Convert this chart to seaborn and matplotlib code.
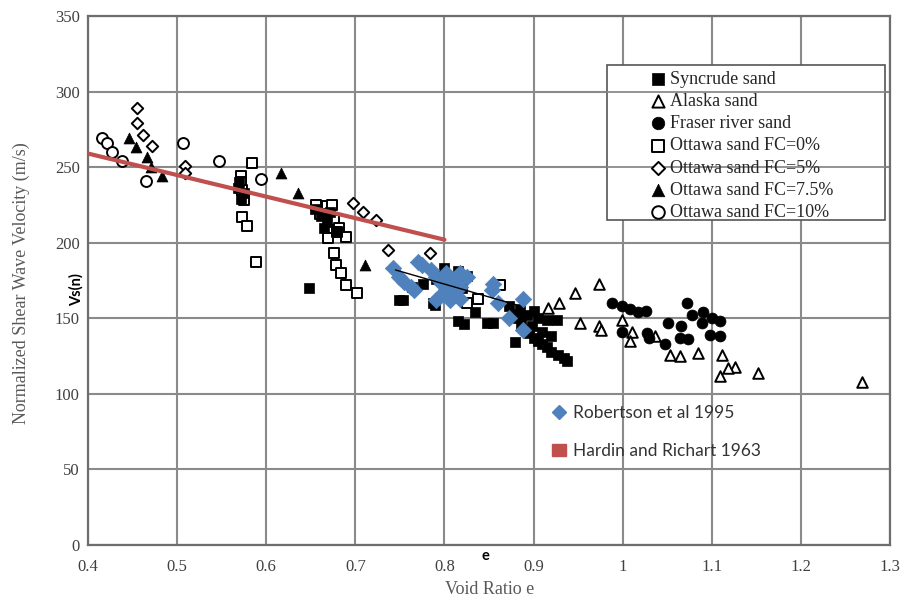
import numpy as np
import pandas as pd
import matplotlib
matplotlib.use("Agg")
import matplotlib.pyplot as plt
import seaborn as sns
from matplotlib.lines import Line2D
from matplotlib.patches import Patch, Rectangle

# --- data (void ratio e, Vs(n) in m/s) ---
syncrude_e = [0.570, 0.568, 0.575, 0.572, 0.655, 0.662, 0.668, 0.672, 0.678, 0.665,
              0.648, 0.753, 0.789, 0.815, 0.822, 0.834, 0.848, 0.854, 0.749, 0.787,
              0.764, 0.776, 0.800, 0.815, 0.825, 0.790, 0.820,
              0.873, 0.878, 0.882, 0.886, 0.890, 0.895, 0.900, 0.905, 0.910, 0.915,
              0.920, 0.927, 0.934, 0.938, 0.879, 0.893, 0.905, 0.915, 0.926, 0.898,
              0.910, 0.920, 0.885, 0.900]
syncrude_v = [240, 236, 233, 229, 222, 218, 214, 220, 208, 210,
              170, 162, 159, 148, 146, 154, 147, 147, 162, 160,
              171, 173, 183, 181, 178, 176, 170,
              158, 153, 150, 146, 143, 140, 137, 135, 133, 131,
              128, 126, 124, 122, 134, 152, 150, 149, 149, 145,
              141, 138, 156, 155]

alaska_e = [0.916, 0.929, 0.946, 0.973, 0.952, 0.973, 0.976, 0.999, 1.010, 1.008,
            1.036, 1.053, 1.064, 1.084, 1.112, 1.126, 1.118, 1.109, 1.152, 1.269]
alaska_v = [157, 160, 167, 173, 147, 145, 142, 149, 141, 135,
            138, 126, 125, 127, 126, 118, 117, 112, 114, 108]

fraser_e = [0.988, 0.999, 1.008, 1.017, 1.026, 0.999, 1.027, 1.029, 1.047, 1.051,
            1.066, 1.072, 1.078, 1.090, 1.089, 1.100, 1.109, 1.098, 1.109, 1.064, 1.073]
fraser_v = [160, 158, 156, 154, 155, 141, 140, 137, 133, 147,
            145, 160, 152, 154, 147, 150, 148, 139, 138, 137, 136]

ottawa0_e = [0.584, 0.572, 0.572, 0.573, 0.575, 0.573, 0.578, 0.589,
             0.656, 0.668, 0.674, 0.660, 0.671, 0.676, 0.682, 0.669, 0.690, 0.679,
             0.676, 0.678, 0.684, 0.690, 0.702, 0.825, 0.862, 0.838]
ottawa0_v = [253, 244, 240, 235, 228, 217, 211, 187,
             225, 224, 225, 219, 219, 215, 210, 203, 204, 207,
             193, 185, 180, 172, 167, 160, 172, 163]

ottawa5_e = [0.455, 0.455, 0.462, 0.472, 0.509, 0.509, 0.697, 0.709, 0.723, 0.737, 0.784]
ottawa5_v = [289, 279, 271, 264, 251, 246, 226, 220, 215, 195, 193]

ottawa75_e = [0.446, 0.454, 0.466, 0.471, 0.483, 0.617, 0.636, 0.711]
ottawa75_v = [269, 263, 257, 250, 244, 246, 233, 185]

ottawa10_e = [0.416, 0.421, 0.427, 0.438, 0.465, 0.507, 0.547, 0.594]
ottawa10_v = [269, 266, 260, 254, 241, 266, 254, 242]

robertson_e = [0.742, 0.749, 0.755, 0.763, 0.766, 0.770, 0.775, 0.785, 0.791, 0.797,
               0.802, 0.794, 0.806, 0.811, 0.817, 0.817, 0.825, 0.811, 0.802, 0.817,
               0.791, 0.854, 0.853, 0.860, 0.888, 0.873, 0.888, 0.800, 0.810]
robertson_v = [183, 177, 174, 171, 169, 187, 185, 182, 177, 173,
               169, 164, 162, 167, 171, 180, 177, 176, 180, 163,
               162, 173, 169, 160, 163, 150, 142, 175, 172]

# trend lines (end points)
robertson_fit_e = [0.745, 0.88]
robertson_fit_v = [182, 159]
hardin_e = [0.4, 0.8]
hardin_v = [259, 202]

xticks = [0.4, 0.5, 0.6, 0.7, 0.8, 0.9, 1.0, 1.1, 1.2, 1.3]
xtick_labels = ["0.4", "0.5", "0.6", "0.7", "0.8", "0.9", "1", "1.1", "1.2", "1.3"]
yticks = [0, 50, 100, 150, 200, 250, 300, 350]

sns.set_style("white")
plt.rcParams["font.family"] = ["Liberation Serif", "DejaVu Serif"]

fig = plt.figure(figsize=(9.01, 6.01), dpi=100)
ax = fig.add_axes([88 / 901, 1 - 545 / 601, (890 - 88) / 901, (545 - 16) / 601])

grid_c = "#8a8a8a"
open_kw = dict(facecolor="white", edgecolor="black", linewidth=1.4)

sns.scatterplot(x=ottawa0_e, y=ottawa0_v, marker="s", s=62, ax=ax, zorder=3,
                label="Ottawa sand FC=0%", **open_kw)
sns.scatterplot(x=ottawa5_e, y=ottawa5_v, marker="D", s=34, ax=ax, zorder=3,
                label="Ottawa sand FC=5%", **open_kw)
sns.scatterplot(x=ottawa10_e, y=ottawa10_v, marker="o", s=62, ax=ax, zorder=3,
                label="Ottawa sand FC=10%", **open_kw)
sns.scatterplot(x=alaska_e, y=alaska_v, marker="^", s=58, ax=ax, zorder=3,
                label="Alaska sand", **open_kw)
sns.scatterplot(x=syncrude_e, y=syncrude_v, marker="s", s=58, color="black",
                edgecolor="black", linewidth=0.5, ax=ax, zorder=4, label="Syncrude sand")
sns.scatterplot(x=fraser_e, y=fraser_v, marker="o", s=62, color="black",
                edgecolor="black", linewidth=0.5, ax=ax, zorder=4, label="Fraser river sand")
sns.scatterplot(x=ottawa75_e, y=ottawa75_v, marker="^", s=62, color="black",
                edgecolor="black", linewidth=0.5, ax=ax, zorder=4, label="Ottawa sand FC=7.5%")
sns.scatterplot(x=robertson_e, y=robertson_v, marker="D", s=70, color="#4F81BD",
                edgecolor="#4F81BD", linewidth=0.5, ax=ax, zorder=5)

sns.lineplot(x=robertson_fit_e, y=robertson_fit_v, color="black", linewidth=1.0,
             ax=ax, zorder=6)
sns.lineplot(x=hardin_e, y=hardin_v, color="#C0504D", linewidth=3.0, ax=ax, zorder=6)

ax.set_xlim(0.4, 1.3)
ax.set_ylim(0, 350)
ax.set_xticks(xticks)
ax.set_xticklabels(xtick_labels)
ax.set_yticks(yticks)
ax.grid(True, color=grid_c, linewidth=1.5)
ax.set_axisbelow(True)
for sp in ax.spines.values():
    sp.set_color("#6e6e6e")
    sp.set_linewidth(1.6)
ax.tick_params(direction="out", length=4, width=1.2, color="#6e6e6e",
               labelsize=12, labelcolor="#404040", pad=2)
ax.tick_params(axis="x", pad=6)
ax.set_xlabel("")
ax.set_ylabel("")

# first legend: the sand types (box drawn by hand, wider than content)
order = ["Syncrude sand", "Alaska sand", "Fraser river sand", "Ottawa sand FC=0%",
         "Ottawa sand FC=5%", "Ottawa sand FC=7.5%", "Ottawa sand FC=10%"]
h, l = ax.get_legend_handles_labels()
lookup = dict(zip(l, h))
leg1 = ax.legend([lookup[k] for k in order], order, loc="upper left",
                 bbox_to_anchor=((638 - 88) / 802, (545 - 58) / 529), frameon=False,
                 fontsize=13, labelspacing=0.29, handlelength=0.8, handletextpad=0.3,
                 borderpad=0.2, labelcolor="#262626", markerscale=1.15)
ax.add_artist(leg1)
box_x0 = (607 - 88) / 802
box_x1 = (885 - 88) / 802
ax.add_patch(Rectangle((box_x0, (545 - 220) / 529), box_x1 - box_x0,
                       (220 - 65) / 529, transform=ax.transAxes, facecolor="white",
                       edgecolor="#555555", linewidth=1.2, zorder=7))
# horizontal grid lines show through the legend box in the original
for gy in [250, 300]:
    ax.plot([box_x0, box_x1], [gy / 350, gy / 350], transform=ax.transAxes,
            color=grid_c, linewidth=1.3, zorder=7.5)
leg1.set_zorder(8)

# second legend: reference trends
h2 = [Line2D([], [], marker="D", linestyle="", color="#4F81BD", markersize=7),
      Patch(facecolor="#C0504D", edgecolor="#C0504D")]
leg2 = ax.legend(h2, ["Robertson et al 1995", "Hardin and Richart 1963"],
                 loc="upper left", bbox_to_anchor=((536 - 88) / 802, (545 - 389) / 529),
                 frameon=False, prop={"family": "Lato", "size": 12.5}, labelcolor="#333333",
                 labelspacing=1.3, handlelength=0.8, handletextpad=0.45)

fig.text(21 / 901, 1 - 283 / 601, "Normalized Shear Wave Velocity (m/s)", rotation=90,
         ha="center", va="center", fontsize=13, color="#595959")
fig.text(490 / 901, 1 - 590 / 601, "Void Ratio e", ha="center", va="center",
         fontsize=13, color="#595959")
fig.text(76 / 901, 1 - 290 / 601, "Vs(n)", rotation=90, ha="center", va="center",
         fontsize=10.5, fontweight="bold", family="Lato", color="black")
fig.text(485 / 901, 1 - 556 / 601, "e", ha="center", va="center",
         fontsize=10.5, fontweight="bold", family="Lato", color="black")

plt.savefig("out.png", dpi=100)
